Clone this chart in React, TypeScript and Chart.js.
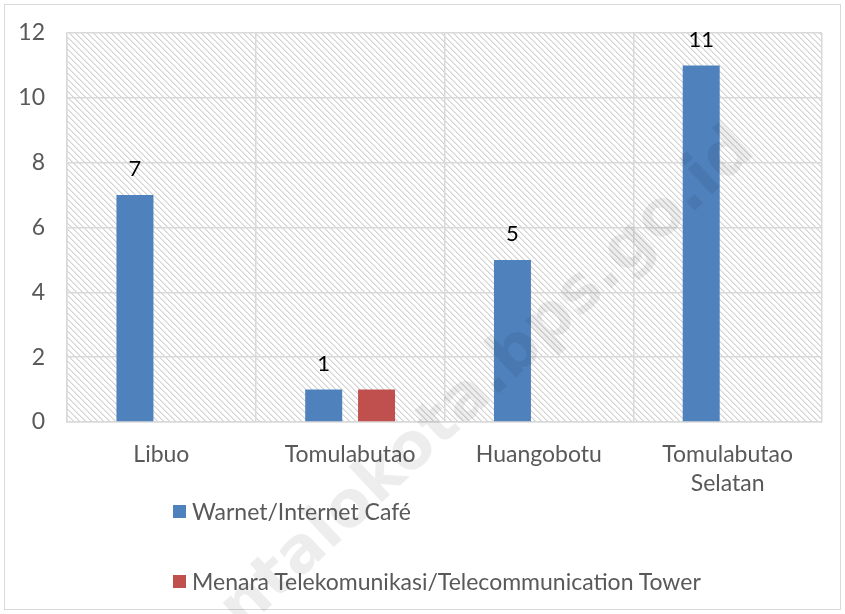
import React, { useEffect, useRef } from "react";
import { Chart, registerables } from "chart.js";

Chart.register(...registerables);

const categories: (string | string[])[] = ["Libuo", "Tomulabutao", "Huangobotu", ["Tomulabutao", "Selatan"]];
const warnetValues = [7, 1, 5, 11];
const towerValues = [null, 1, null, null];
const seriesNames = ["Warnet/Internet Café", "Menara Telekomunikasi/Telecommunication Tower"];
const seriesColors = ["#4f81bd", "#c0504d"];
const yTicks = [0, 2, 4, 6, 8, 10, 12];
const watermark = "gorontalokota.bps.go.id";

const FONT = "Lato, 'Noto Sans', sans-serif";
const FS = 23;
const PLOT_TOP = 33;

function makePattern(ctx: CanvasRenderingContext2D) {
  const c = document.createElement("canvas");
  const n = 6;
  c.width = n;
  c.height = n;
  const g = c.getContext("2d")!;
  g.fillStyle = "#ffffff";
  g.fillRect(0, 0, n, n);
  for (let y = 0; y < n; y++) {
    for (let x = 0; x < n; x++) {
      const d = (((x - y) % n) + n) % n;
      if (d === 0) {
        g.fillStyle = "#d4d4d4";
        g.fillRect(x, y, 1, 1);
      } else if (d === 1) {
        g.fillStyle = "#e6e6e6";
        g.fillRect(x, y, 1, 1);
      }
    }
  }
  return ctx.createPattern(c, "repeat");
}

const bgPlugin = {
  id: "bgPlugin",
  beforeDraw(chart: any) {
    const { ctx, chartArea } = chart;
    ctx.save();
    ctx.fillStyle = "#ffffff";
    ctx.fillRect(0, 0, chart.width, chart.height);
    ctx.strokeStyle = "#d9d9d9";
    ctx.lineWidth = 1;
    ctx.strokeRect(4.5, 4.5, chart.width - 9, chart.height - 9);
    const pat = makePattern(ctx);
    if (pat) {
      ctx.fillStyle = pat;
      ctx.fillRect(chartArea.left, chartArea.top, chartArea.right - chartArea.left, chartArea.bottom - chartArea.top);
    }
    ctx.restore();
  },
};

const labelPlugin = {
  id: "labelPlugin",
  afterDatasetsDraw(chart: any) {
    const { ctx } = chart;
    const meta = chart.getDatasetMeta(0);
    ctx.save();
    ctx.fillStyle = "#000000";
    ctx.font = `22px ${FONT}`;
    ctx.textAlign = "center";
    ctx.textBaseline = "middle";
    meta.data.forEach((bar: any, i: number) => {
      const v = warnetValues[i];
      if (v == null) return;
      ctx.fillText(String(v), bar.x, bar.y - 26);
    });
    ctx.restore();
  },
};

const watermarkPlugin = {
  id: "watermarkPlugin",
  afterDraw(chart: any) {
    const { ctx } = chart;
    ctx.save();
    ctx.translate(746, 140);
    ctx.rotate((-43 * Math.PI) / 180);
    ctx.font = `bold 64px 'DejaVu Sans', sans-serif`;
    ctx.fillStyle = "rgba(0,0,0,0.07)";
    ctx.textAlign = "right";
    ctx.textBaseline = "middle";
    ctx.fillText(watermark, 0, 0);
    ctx.restore();
  },
};

export default function App() {
  const ref = useRef<HTMLCanvasElement | null>(null);
  useEffect(() => {
    document.body.style.margin = "0";
    const canvas = ref.current!;
    const chart = new Chart(canvas, {
      type: "bar",
      data: {
        labels: categories as any,
        datasets: [
          { label: seriesNames[0], data: warnetValues, backgroundColor: seriesColors[0], categoryPercentage: 0.56, barPercentage: 0.7 },
          { label: seriesNames[1], data: towerValues as any, backgroundColor: seriesColors[1], categoryPercentage: 0.56, barPercentage: 0.7 },
        ],
      },
      options: {
        animation: false,
        responsive: false,
        maintainAspectRatio: false,
        layout: { padding: { top: PLOT_TOP, right: 23, bottom: 0, left: 0 } },
        plugins: { legend: { display: false }, tooltip: { enabled: false } },
        scales: {
          x: {
            afterFit: (s: any) => { s.height = 192; },
            grid: { display: true, offset: true, color: "#d9d9d9", lineWidth: 1.5, drawTicks: false },
            border: { display: true, color: "#d9d9d9", width: 1.5 },
            ticks: { color: "#595959", font: { family: FONT, size: FS, lineHeight: 1.22 }, padding: 19, maxRotation: 0, autoSkip: false },
          },
          y: {
            min: 0,
            max: 12,
            afterFit: (s: any) => { s.width = 67; },
            afterBuildTicks: (s: any) => { s.ticks = yTicks.map((v) => ({ value: v })); },
            grid: { color: "#d9d9d9", lineWidth: 1.5, drawTicks: false },
            border: { display: true, color: "#d9d9d9", width: 1.5 },
            ticks: { color: "#595959", font: { family: FONT, size: FS, lineHeight: 0.8 }, padding: 22 },
          },
        },
      },
      plugins: [bgPlugin, labelPlugin, watermarkPlugin],
    });
    return () => chart.destroy();
  }, []);

  const legendRow = (i: number, top: number) => (
    <div style={{ position: "absolute", left: 173, top, height: 26, display: "flex", alignItems: "center", fontFamily: FONT, fontSize: FS, lineHeight: "26px", color: "#595959", whiteSpace: "nowrap" }}>
      <span style={{ display: "inline-block", width: 13, height: 13, background: seriesColors[i], marginRight: 6 }} />
      <span>{seriesNames[i]}</span>
    </div>
  );

  return (
    <div style={{ position: "relative", width: 845, height: 614, overflow: "hidden" }}>
      <canvas ref={ref} width={845} height={614} style={{ width: 845, height: 614, display: "block" }} />
      {legendRow(0, 498)}
      {legendRow(1, 568)}
    </div>
  );
}
